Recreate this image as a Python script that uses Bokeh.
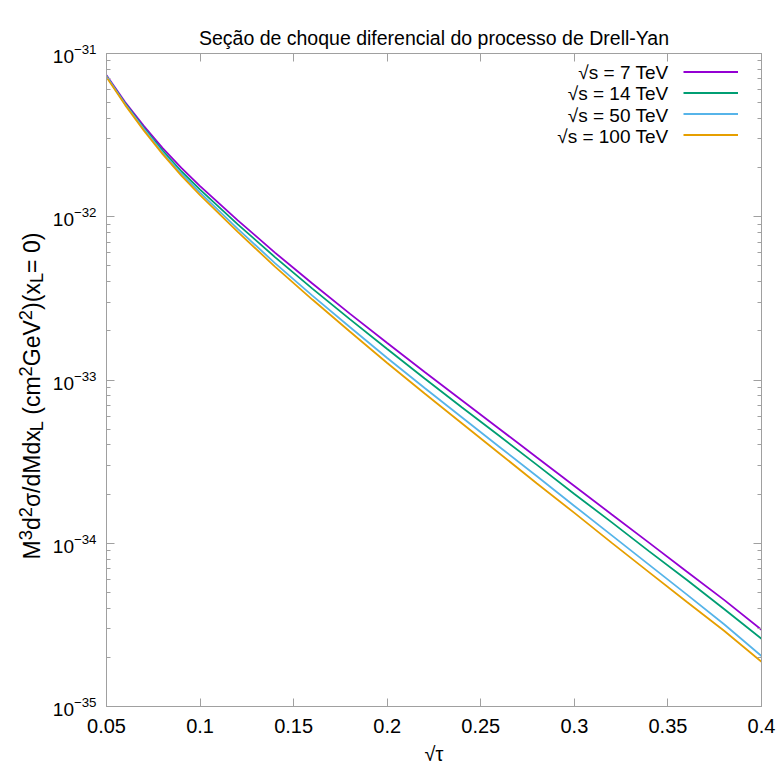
from bokeh.plotting import figure
from bokeh.layouts import row
from bokeh.models import (FixedTicker, LogAxis, LinearAxis, Label, Legend, LegendItem,
                          Range1d, NumeralTickFormatter, CustomLabelingPolicy, Title)
from bokeh.embed import file_html
from bokeh.resources import INLINE
from bokeh.core.properties import value

# ---- data ----
sqrt_tau = [0.05, 0.06, 0.07, 0.08, 0.09, 0.10, 0.12, 0.14, 0.16, 0.18, 0.20,
            0.22, 0.24, 0.26, 0.28, 0.30, 0.32, 0.34, 0.36, 0.38, 0.40]
sigma_7TeV = [7.36e-32, 5.03e-32, 3.59e-32, 2.63e-32, 1.99e-32, 1.54e-32, 9.54e-33,
              6.03e-33, 3.90e-33, 2.55e-33, 1.685e-33, 1.12e-33, 7.49e-34, 5.01e-34,
              3.35e-34, 2.245e-34, 1.50e-34, 1.005e-34, 6.72e-35, 4.50e-35, 2.95e-35]
sigma_14TeV = [7.26e-32, 4.93e-32, 3.49e-32, 2.54e-32, 1.90e-32, 1.466e-32, 9.02e-33,
               5.66e-33, 3.63e-33, 2.36e-33, 1.548e-33, 1.021e-33, 6.79e-34, 4.54e-34,
               3.02e-34, 2.005e-34, 1.342e-34, 8.92e-35, 5.97e-35, 3.96e-35, 2.60e-35]
sigma_50TeV = [7.26e-32, 4.89e-32, 3.44e-32, 2.47e-32, 1.837e-32, 1.406e-32, 8.46e-33,
               5.20e-33, 3.29e-33, 2.11e-33, 1.364e-33, 8.93e-34, 5.89e-34, 3.89e-34,
               2.57e-34, 1.693e-34, 1.117e-34, 7.37e-35, 4.86e-35, 3.19e-35, 2.04e-35]
sigma_100TeV = [7.16e-32, 4.83e-32, 3.37e-32, 2.42e-32, 1.786e-32, 1.357e-32, 8.11e-33,
                4.95e-33, 3.11e-33, 1.981e-33, 1.271e-33, 8.27e-34, 5.42e-34, 3.55e-34,
                2.325e-34, 1.534e-34, 1.005e-34, 6.63e-35, 4.38e-35, 2.91e-35, 1.878e-35]
series_labels = ["√s = 7 TeV", "√s = 14 TeV", "√s = 50 TeV", "√s = 100 TeV"]
series_colors = ["#9400d3", "#009e73", "#56b4e9", "#e69f00"]
x_ticks = [0.05, 0.1, 0.15, 0.2, 0.25, 0.3, 0.35, 0.4]
y_exponents = [-35, -34, -33, -32, -31]

title_text = "Seção de choque diferencial do processo de Drell-Yan"
x_label = "√τ"

FONT = "Liberation Sans"
GRAY = "#a0a0a0"
LEFT_W = 46

y_major = [10.0 ** e for e in y_exponents]
y_minor = [k * 10.0 ** e for e in y_exponents[:-1] for k in range(2, 10)]

p = figure(width=777 - LEFT_W, height=767, output_backend="svg", toolbar_location=None,
           y_axis_type="log", x_range=Range1d(0.05, 0.4), y_range=Range1d(1e-35, 1e-31),
           min_border_left=106 - LEFT_W, min_border_right=16, min_border_top=53,
           min_border_bottom=60)
p.xgrid.visible = False
p.ygrid.visible = False
p.outline_line_color = GRAY
p.outline_line_width = 1
p.background_fill_color = "white"
p.border_fill_color = "white"
p.title.visible = False

hide_all = CustomLabelingPolicy(code="""
    for (const i of Array.from(indices)) indices.unset(i)
    return indices
""")


def style_axis(ax, size="20px"):
    ax.axis_line_color = GRAY
    ax.major_tick_line_color = GRAY
    ax.minor_tick_line_color = GRAY
    ax.major_tick_in = 8
    ax.major_tick_out = 0
    ax.minor_tick_in = 4
    ax.minor_tick_out = 0
    ax.major_label_text_font = FONT
    ax.major_label_text_color = "black"
    if size is not None:
        ax.major_label_text_font_size = size
    else:
        ax.major_label_text_font_size = "2px"
        ax.major_label_standoff = 0
        ax.major_label_policy = hide_all


p.xaxis.ticker = FixedTicker(ticks=x_ticks, minor_ticks=[])
p.xaxis.formatter = NumeralTickFormatter(format="0.[00]")
style_axis(p.xaxis[0], "20px")
p.xaxis.major_label_standoff = 12
p.xaxis.major_label_text_line_height = 1.0
p.xaxis.axis_label = x_label
p.xaxis.axis_label_text_font = FONT
p.xaxis.axis_label_text_font_size = "20px"
p.xaxis.axis_label_text_font_style = "normal"
p.xaxis.axis_label_text_color = "black"
p.xaxis.axis_label_text_line_height = 1.0
p.xaxis.axis_label_standoff = 7

p.yaxis.ticker = FixedTicker(ticks=y_major, minor_ticks=y_minor)
style_axis(p.yaxis[0], "19px")
p.yaxis.major_label_standoff = 10

top_ax = LinearAxis(ticker=FixedTicker(ticks=x_ticks, minor_ticks=[]))
style_axis(top_ax, None)
p.add_layout(top_ax, "above")
# empty spacer between the frame and the title (no ticks, no line)
spacer_ax = LinearAxis(ticker=FixedTicker(ticks=[], minor_ticks=[]))
style_axis(spacer_ax, None)
spacer_ax.axis_line_color = None
spacer_ax.major_tick_in = 0
spacer_ax.major_tick_out = 20
p.add_layout(spacer_ax, "above")
p.add_layout(Title(text=title_text, align="center", vertical_align="bottom", standoff=2,
                   text_font=FONT, text_font_size="19.5px", text_font_style="normal",
                   text_color="black"), "above")
right_ax = LogAxis(ticker=FixedTicker(ticks=y_major, minor_ticks=y_minor))
style_axis(right_ax, None)
p.add_layout(right_ax, "right")

renderers = []
for ys, c in zip([sigma_7TeV, sigma_14TeV, sigma_50TeV, sigma_100TeV], series_colors):
    r = p.line(sqrt_tau, ys, line_color=c, line_width=1.8)
    renderers.append(r)

# legend: samples via Legend, texts right-aligned to the left of them (gnuplot style)
legend = Legend(items=[LegendItem(label=value(""), renderers=[r]) for r in renderers],
                location=(577, 561), glyph_width=55, glyph_height=21, label_width=0,
                label_height=21, label_standoff=0, padding=0, margin=0, spacing=0,
                border_line_alpha=0, background_fill_alpha=0, label_text_font_size="10px")
p.add_layout(legend)
for i, lab in enumerate(series_labels):
    p.add_layout(Label(x=562, y=634 - 21.4 * i, x_units="screen", y_units="screen",
                       text=lab, text_align="right", text_baseline="middle",
                       text_font=FONT, text_font_size="19px", text_color="black"))

# ---- left strip holding the rotated y label (with super/subscripts) ----
q = figure(width=LEFT_W, height=767, output_backend="svg", toolbar_location=None,
           x_range=Range1d(0, LEFT_W), y_range=Range1d(0, 767),
           x_axis_location=None, y_axis_location=None, min_border=0)
q.xgrid.visible = False
q.ygrid.visible = False
q.outline_line_color = None
q.background_fill_color = "white"
q.border_fill_color = "white"

W = {'M': 0.833, 'd': 0.556, 'σ': 0.57, '/': 0.278, 'x': 0.5, ' ': 0.278, '(': 0.333,
     ')': 0.333, 'c': 0.5, 'm': 0.833, 'G': 0.778, 'e': 0.556, 'V': 0.667, '=': 0.584,
     '0': 0.556, '2': 0.556, '3': 0.556, 'L': 0.556}
pieces = [("M", "n"), ("3", "sup"), ("d", "n"), ("2", "sup"), ("σ/dMdx", "n"), ("L", "sub"),
          (" ", "gap"), ("(cm", "n"), ("2", "sup"), ("GeV", "n"), ("2", "sup"), (")(x", "n"),
          ("L", "sub"), (" = 0)", "n")]
F = 23.0
S = 0.8 * F
baseline = {"n": 39, "sup": 31, "sub": 42}
pos = 147.0          # frame of the strip is aligned with the main frame (bottom at 707 px)
for txt, kind in pieces:
    size = S if kind in ("sup", "sub") else F
    if kind != "gap":
        q.add_layout(Label(x=baseline[kind] - 0.3465 * size, y=pos, x_units="screen",
                           y_units="screen", text=txt, angle=90, angle_units="deg",
                           text_align="left", text_baseline="middle", text_font=FONT,
                           text_font_size=f"{size:.1f}px", text_color="black"))
    pos += sum(W[ch] for ch in txt) * size

layout = row(q, p, spacing=0)
open("out.html", "w").write(file_html(layout, INLINE))
